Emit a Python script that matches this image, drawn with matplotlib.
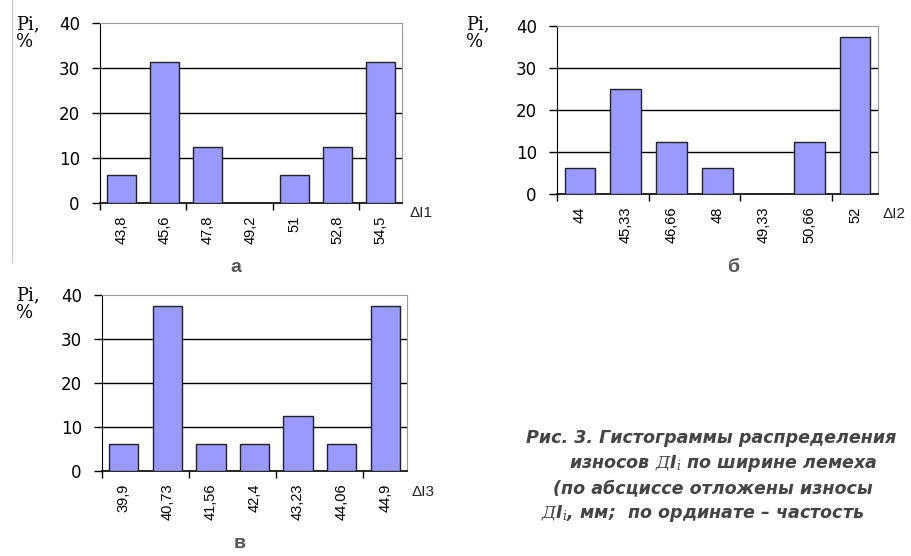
import matplotlib.pyplot as plt
from matplotlib.lines import Line2D

plt.rcParams['mathtext.fontset'] = 'custom'
plt.rcParams['mathtext.it'] = 'DejaVu Serif:italic'
plt.rcParams['mathtext.rm'] = 'DejaVu Sans:bold:italic'

# histogram data: wear values (mm) and frequencies (%)
labels_1 = ["43,8", "45,6", "47,8", "49,2", "51", "52,8", "54,5"]
freq_1 = [6.25, 31.25, 12.5, 0, 6.25, 12.5, 31.25]

labels_2 = ["44", "45,33", "46,66", "48", "49,33", "50,66", "52"]
freq_2 = [6.25, 25, 12.5, 6.25, 0, 12.5, 37.5]

labels_3 = ["39,9", "40,73", "41,56", "42,4", "43,23", "44,06", "44,9"]
freq_3 = [6.25, 37.5, 6.25, 6.25, 12.5, 6.25, 37.5]

W, H = 912, 556
fig = plt.figure(figsize=(W / 100, H / 100), dpi=100)
fig.patch.set_facecolor("white")


def px_axes(left, top, right, bottom):
    return fig.add_axes([left / W, 1 - bottom / H, (right - left) / W, (bottom - top) / H])


def histogram(box, labels, freq, xname, xname_pos, letter, letter_pos, pi_pos):
    ax = px_axes(*box)
    x = range(len(freq))
    ax.bar(x, freq, width=0.67, color="#9999ff", edgecolor="#222222", linewidth=1.0, zorder=3)
    ax.set_xlim(-0.5, len(freq) - 0.5)
    ax.set_ylim(0, 40)
    ax.set_yticks([0, 10, 20, 30, 40])
    ax.tick_params(axis="y", length=6, width=1, pad=8.5, labelsize=12)
    for t in ax.get_yticklabels():
        t.set_fontfamily("DejaVu Sans")
    ax.set_xticks(list(x))
    ax.set_xticklabels(labels, rotation=90, fontsize=10.5, fontfamily="Liberation Sans")
    ax.tick_params(axis="x", which="major", length=0, pad=9)
    ax.set_xticks([-0.5, 1.5, 3.5, 5.5], minor=True)
    ax.tick_params(axis="x", which="minor", length=5, width=1)
    for yv in (10, 20, 30):
        ax.axhline(yv, color="black", linewidth=1, zorder=1)
    ax.spines["left"].set_color("black")
    ax.spines["bottom"].set_color("black")
    ax.spines["bottom"].set_linewidth(1.2)
    ax.spines["top"].set_color("#999999")
    ax.spines["right"].set_color("#999999")
    fig.text(xname_pos[0] / W, 1 - xname_pos[1] / H, xname, fontsize=11,
             fontfamily="Liberation Sans", color="#222222", va="center")
    fig.text(letter_pos[0] / W, 1 - letter_pos[1] / H, letter, fontsize=14,
             fontweight="bold", fontfamily="Liberation Sans", color="#555555",
             ha="center", va="center")
    fig.text(pi_pos[0] / W, 1 - pi_pos[1] / H, "Pi,\n%", fontsize=13,
             fontfamily="DejaVu Serif", va="top", linespacing=1.0)
    return ax


histogram((100, 23, 402, 203), labels_1, freq_1, "ΔI1", (410, 213), "а", (236, 268), (16, 15))
histogram((557, 26, 878, 194), labels_2, freq_2, "ΔI2", (883, 214), "б", (733, 268), (466, 15))
histogram((102, 295, 407, 471), labels_3, freq_3, "ΔI3", (412, 492), "в", (240, 543), (16, 286))

# thin frame line on the left of the first panel
fig.add_artist(Line2D([12 / W, 12 / W], [1, 1 - 262 / H], color="#cccccc", linewidth=1))

caption = [
    ("Рис. 3. Гистограммы распределения", 526, 443),
    (r"износов $Д$I$_i$ по ширине лемеха", 569, 468),
    ("(по абсциссе отложены износы", 553, 493),
    (r"$Д$I$_i$, мм;  по ординате – частость", 541, 518),
]
for line, cx, cy in caption:
    fig.text(cx / W, 1 - cy / H, line, fontsize=12.6, fontweight="bold", fontstyle="italic",
             fontfamily="DejaVu Sans", color="#444444", va="baseline")

fig.savefig("out.png", dpi=100)
